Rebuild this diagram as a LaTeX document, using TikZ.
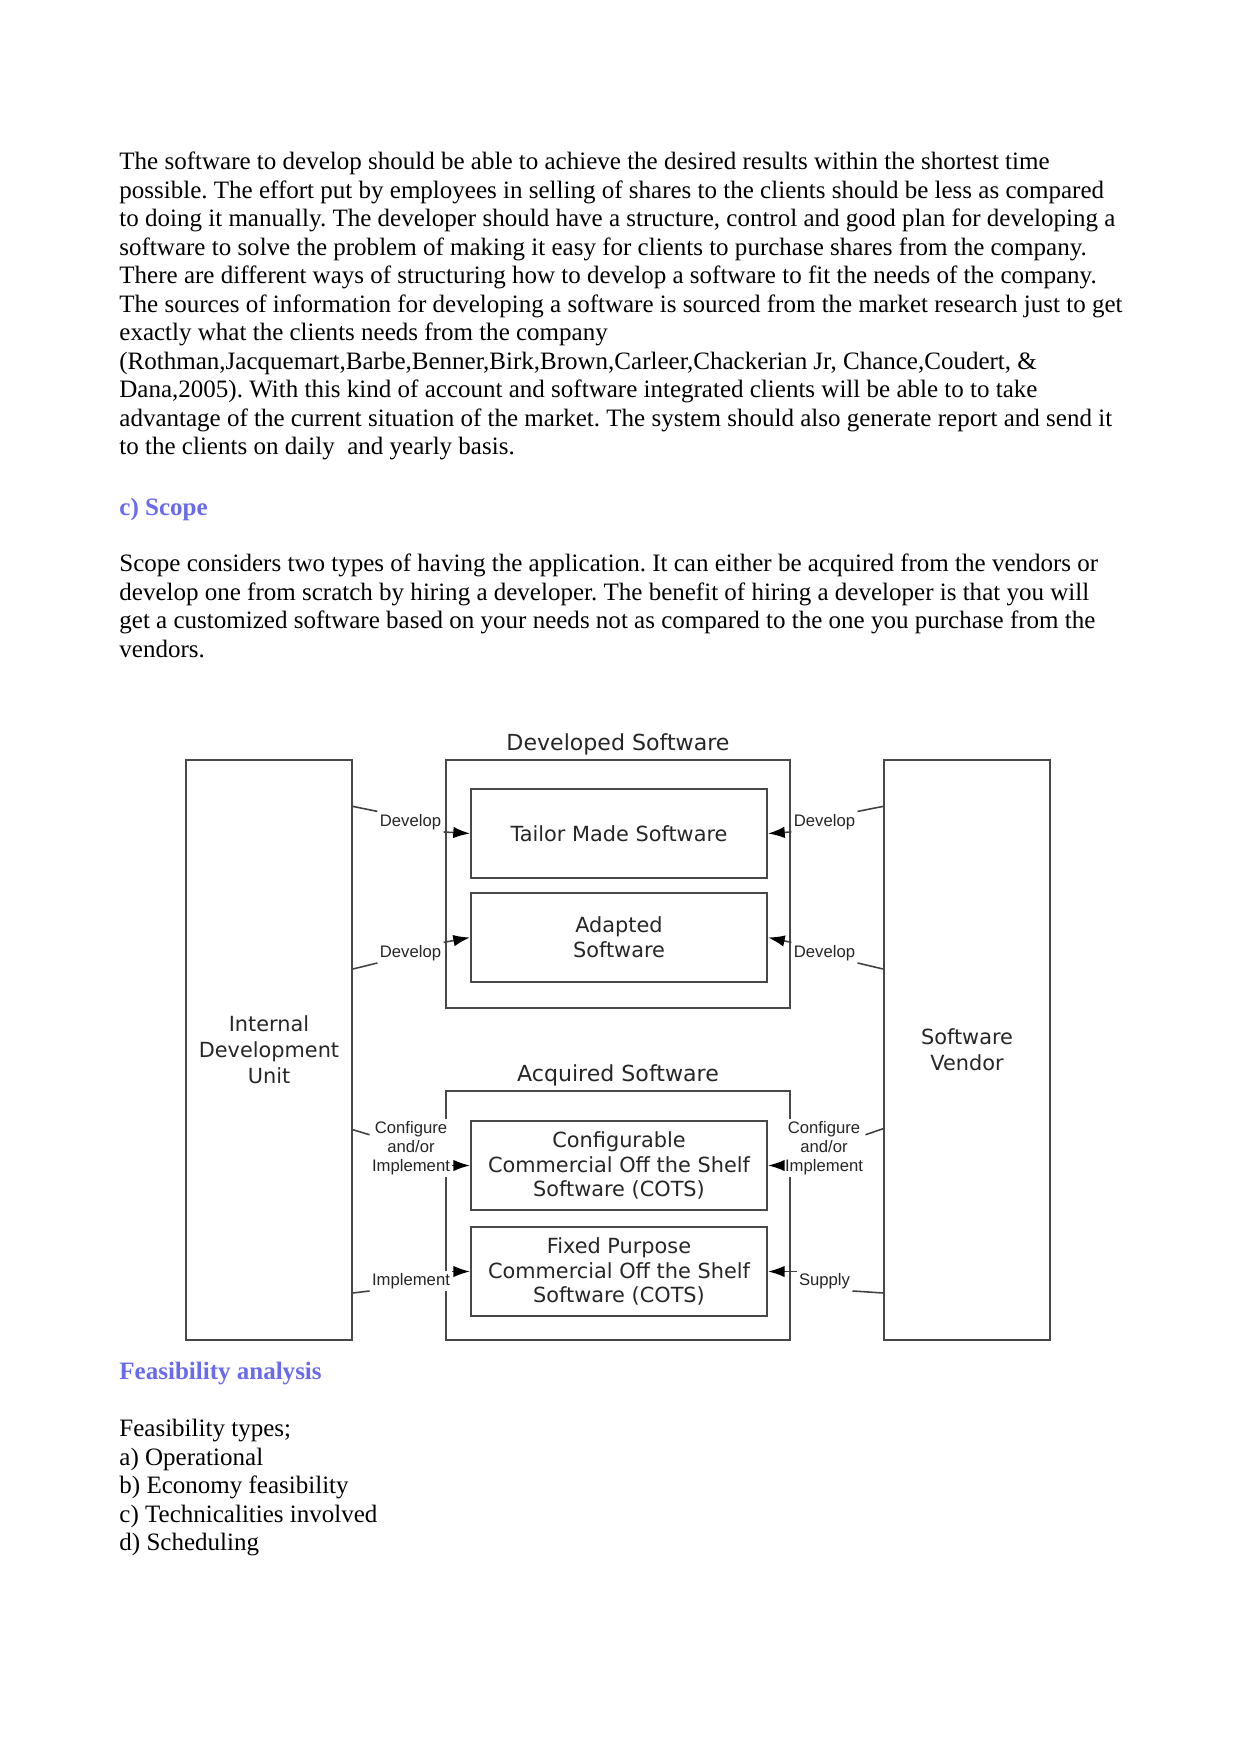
\documentclass[tikz,border=0pt]{standalone}
\usepackage{fontspec}
\setmainfont{Liberation Serif}
\newfontfamily\boxfont{DejaVu Sans}
\newfontfamily\tagfont{Liberation Sans}
\usetikzlibrary{arrows.meta,calc}
\definecolor{headblue}{RGB}{106,106,238}
\definecolor{linegray}{RGB}{72,72,72}
\definecolor{inkgray}{RGB}{38,38,38}
\newlength{\px}
\setlength{\px}{0.4797pt}
\frenchspacing
\tikzset{
  body/.style={anchor=base west, inner sep=0pt, font=\fontsize{12}{13.7}\selectfont},
  heading/.style={body, font=\fontsize{12}{13.7}\selectfont\bfseries, text=headblue},
  unit/.style={draw=linegray, line width=1pt, minimum width=166\px, minimum height=580\px,
    align=center, text=inkgray, font=\boxfont\fontsize{10}{12.4}\selectfont},
  holder/.style={draw=linegray, line width=1pt, minimum width=344\px, minimum height=248\px},
  soft/.style={draw=linegray, line width=1pt, minimum width=296\px, minimum height=89\px,
    align=center, text=inkgray, font=\boxfont\fontsize{10}{11.8}\selectfont},
  title/.style={anchor=base, inner sep=0pt, text=inkgray, font=\boxfont\fontsize{10.6}{12}\selectfont},
  tag/.style={fill=white, inner sep=1pt, text=inkgray, font=\tagfont\fontsize{8}{9.1}\selectfont},
  link/.style={draw=black!75, line width=0.75pt},
  flow/.style={link, -{Latex[length=8pt,width=5.5pt,black]}}
}
\begin{document}
\begin{tikzpicture}[x=0.4797pt, y=-0.4797pt]
  \useasboundingbox (0,0) rectangle (1241,1754);
  % text of the page
  \draw
    (119,170) node[body] (p1) {The software to develop should be able to achieve the desired results within the shortest time}
    (119,198.45) node[body] (p2) {possible. The effort put by employees in selling of shares to the clients should be less as compared}
    (119,226.9) node[body] (p3) {to doing it manually. The developer should have a structure, control and good plan for developing a}
    (119,255.35) node[body] (p4) {software to solve the problem of making it easy for clients to purchase shares from the company.}
    (119,283.8) node[body] (p5) {There are different ways of structuring how to develop a software to fit the needs of the company.}
    (119,312.25) node[body] (p6) {The sources of information for developing a software is sourced from the market research just to get}
    (119,340.7) node[body] (p7) {exactly what the clients needs from the company}
    (119,369.15) node[body] (p8) {(Rothman,Jacquemart,Barbe,Benner,Birk,Brown,Carleer,Chackerian Jr, Chance,Coudert, \&}
    (119,397.6) node[body] (p9) {Dana,2005). With this kind of account and software integrated clients will be able to to take}
    (119,426.05) node[body] (p10) {advantage of the current situation of the market. The system should also generate report and send it}
    (119,454.5) node[body] (p11) {to the clients on daily\ \ and yearly basis.};
  \draw
    (119,515) node[heading] (scope) {c) Scope}
    (119,571.7) node[body] (s1) {Scope considers two types of having the application. It can either be acquired from the vendors or}
    (119,600.1) node[body] (s2) {develop one from scratch by hiring a developer. The benefit of hiring a developer is that you will}
    (119,628.6) node[body] (s3) {get a customized software based on your needs not as compared to the one you purchase from the}
    (119,657) node[body] (s4) {vendors.};
  \draw
    (119,1379) node[heading] (feas) {Feasibility analysis}
    (119,1436.7) node[body] (f0) {Feasibility types;}
    (119,1465.1) node[body] (f1) {a) Operational}
    (119,1493.6) node[body] (f2) {b) Economy feasibility}
    (119,1522) node[body] (f3) {c) Technicalities involved}
    (119,1550.5) node[body] (f4) {d) Scheduling};

  % diagram
  \node[unit] (idu) at (269,1050) {Internal\\Development\\Unit};
  \node[unit] (vendor) at (967,1050) {Software\\Vendor};
  \node[holder] (devbox) at (618,884) {};
  \node[holder, minimum height=249\px] (acqbox) at (618,1215.5) {};
  \node[title] (devtitle) at ($(devbox.north)+(0,-8)$) {Developed Software};
  \node[title] (acqtitle) at ($(acqbox.north)+(0,-8)$) {Acquired Software};
  \node[soft] (tailor) at (619,833.5) {Tailor Made Software};
  \node[soft] (adapted) at (619,937.5) {Adapted\\Software};
  \node[soft] (config) at (619,1165.5) {Configurable\\Commercial Off the Shelf\\Software (COTS)};
  \node[soft] (fixed) at (619,1271.5) {Fixed Purpose\\Commercial Off the Shelf\\Software (COTS)};

  \node[tag, anchor=base] (dl1) at (410.5,826) {Develop};
  \node[tag, anchor=base] (dl2) at (410.5,957) {Develop};
  \node[tag, align=center] (cl) at (411,1148) {Configure\\and/or\\Implement};
  \node[tag, anchor=base] (il) at (411,1285) {Implement};
  \node[tag, anchor=base] (dr1) at (824.5,826) {Develop};
  \node[tag, anchor=base] (dr2) at (824.5,957) {Develop};
  \node[tag, align=center] (cr) at (824,1148) {Configure\\and/or\\Implement};
  \node[tag, anchor=base] (sr) at (824.5,1285) {Supply};

  % from the development unit
  \draw[link] ($(dl1.north west -| idu.east)+(0,-5)$) -- (dl1.north west);
  \draw[link] ($(dl2.south west -| idu.east)+(0,6)$) -- (dl2.south west);
  \draw[link] ($(cl.north west -| idu.east)+(0,11)$) -- ($(cl.north west)+(0,16)$);
  \draw[link] ($(il.south west -| idu.east)+(0,2)$) -- (il.south west);
  \draw[flow] (dl1.south east) -- (tailor.west);
  \draw[flow] (dl2.north east) -- (adapted.west);
  \draw[flow] (cl.east |- config.west) -- (config.west);
  \draw[flow] (il.east |- fixed.west) -- (fixed.west);

  % from the vendor
  \draw[link] ($(dr1.north east -| vendor.west)+(0,-5)$) -- (dr1.north east);
  \draw[link] ($(dr2.south east -| vendor.west)+(0,6)$) -- (dr2.south east);
  \draw[link] ($(cr.north east -| vendor.west)+(0,10)$) -- ($(cr.north east)+(0,16)$);
  \draw[link] ($(sr.south east -| vendor.west)+(0,2)$) -- (sr.south east);
  \draw[flow] (dr1.south west) -- (tailor.east);
  \draw[flow] (dr2.north west) -- (adapted.east);
  \draw[flow] (cr.west |- config.east) -- (config.east);
  \draw[flow] (sr.west |- fixed.east) -- (fixed.east);
\end{tikzpicture}
\end{document}
